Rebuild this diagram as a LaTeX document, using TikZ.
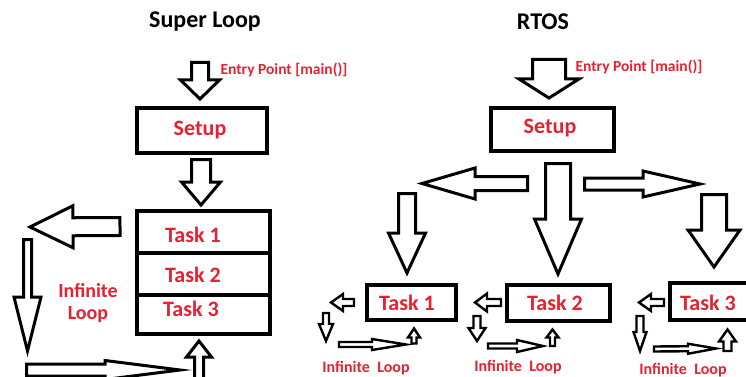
\documentclass[tikz,border=0pt]{standalone}
\usepackage{fontspec}
\setmainfont{Carlito}
\usetikzlibrary{calc}
\definecolor{labelred}{RGB}{228,34,50}

% Hollow block arrow from coordinate #2 (tail) to coordinate #3 (tip):
% #4 shaft half width, #5 head half width, #6 head length (all in pt)
\newcommand\blockarrow[6][fatline]{%
  \coordinate (ba-neck) at ($(#3)!#6pt!(#2)$);
  \draw[#1] ($(#2)!#4pt!90:(#3)$) -- ($(ba-neck)!#4pt!90:(#3)$)
    -- ($(ba-neck)!#5pt!90:(#3)$) -- (#3)
    -- ($(ba-neck)!#5pt!-90:(#3)$) -- ($(ba-neck)!#4pt!-90:(#3)$)
    -- ($(#2)!#4pt!-90:(#3)$) -- cycle;
}

\tikzset{
  fatline/.style={draw=black, fill=white, line width=3pt, line join=miter},
  thinline/.style={draw=black, fill=white, line width=2.4pt, line join=miter},
  box/.style={draw=black, line width=3.5pt, rectangle, inner sep=0pt,
    minimum width=#1},
  title/.style={font=\fontsize{24}{28}\selectfont\bfseries, text=black},
  entry/.style={font=\fontsize{15.5}{18}\selectfont\bfseries, text=labelred},
  big/.style={font=\fontsize{22}{26}\selectfont\bfseries, text=labelred},
  loopbig/.style={font=\fontsize{20}{22}\selectfont\bfseries, text=labelred, align=center},
  loopsmall/.style={font=\fontsize{16}{18}\selectfont\bfseries, text=labelred},
}

\begin{document}
\begin{tikzpicture}[x=1pt, y=-1pt]
  \useasboundingbox (0,0) rectangle (746,377);
  \fill[white] (0,0) rectangle (746,377);
  \clip (0,0) rectangle (746,377);

  % ---------------- Super Loop ----------------
  \node[title] (sltitle) at (205,22) {Super Loop};
  \node[entry] (slentry) at (284,70) {Entry Point [main()]};

  \node[box=130pt, minimum height=45pt] (slsetup) at (202,130.5) {};
  \node[big] (slsetuptxt) at (200,130) {Setup};

  \node[box=133pt, minimum height=42pt] (sltask1) at (203.5,232) {};
  \node[box=133pt, minimum height=42pt] (sltask2) at (203.5,274) {};
  \node[box=133pt, minimum height=39pt] (sltask3) at (203.5,314.5) {};
  \node[big] (sltask1txt) at (193,235) {Task 1};
  \node[big] (sltask2txt) at (193,275) {Task 2};
  \node[big] (sltask3txt) at (191,309) {Task 3};

  \node[loopbig] (slloop) at (88,303) {Infinite\\Loop};

  % arrow end points
  \coordinate (sl-in-a)   at (200,62.5);  \coordinate (sl-in-b)   at (200,99);
  \coordinate (sl-st-a)   at (201,159.5); \coordinate (sl-st-b)   at (201,205);
  \coordinate (sl-l-a)    at (120,226.5); \coordinate (sl-l-b)    at (30,227);
  \coordinate (sl-d-a)    at (27.5,239.5);\coordinate (sl-d-b)    at (27.5,351);
  \coordinate (sl-r-a)    at (26.5,370);  \coordinate (sl-r-b)    at (180,370);
  \coordinate (sl-u-a)    at (199,390);   \coordinate (sl-u-b)    at (199,341);

  \blockarrow{sl-in-a}{sl-in-b}{8.5}{19.5}{19}
  \blockarrow{sl-st-a}{sl-st-b}{9.5}{19.5}{23}
  \blockarrow{sl-l-a}{sl-l-b}{9}{21}{43}
  \blockarrow{sl-d-a}{sl-d-b}{4}{13.5}{54}
  \blockarrow{sl-r-a}{sl-r-b}{6}{9.5}{75}
  \blockarrow{sl-u-a}{sl-u-b}{4.5}{12.5}{16}

  % ---------------- RTOS ----------------
  \node[title] (rtitle) at (543,22) {RTOS};
  \node[entry] (rentry) at (639,67) {Entry Point [main()]};

  \node[box=123pt, minimum height=43pt] (rsetup) at (552.5,129.5) {};
  \node[big] (rsetuptxt) at (550,128) {Setup};

  \node[box=89pt, minimum height=35pt] (rtask1) at (411.5,302.5) {};
  \node[box=103pt, minimum height=36pt] (rtask2) at (558.5,303) {};
  \node[box=120pt, minimum height=37pt] (rtask3) at (730,301.5) {};
  \node[big] (rtask1txt) at (407,303) {Task 1};
  \node[big] (rtask2txt) at (555,303) {Task 2};
  \node[big] (rtask3txt) at (708,303) {Task 3};

  \coordinate (r-in-a) at (549,59.5);   \coordinate (r-in-b) at (549,98);
  \coordinate (r-c-a)  at (558,163.5);  \coordinate (r-c-b)  at (558,274);
  \coordinate (r-l-a)  at (527.5,183.5);\coordinate (r-l-b)  at (422,183.5);
  \coordinate (r-r-a)  at (584.5,184);  \coordinate (r-r-b)  at (700,184);
  \coordinate (r-ld-a) at (407,193.5);  \coordinate (r-ld-b) at (407,273);
  \coordinate (r-rd-a) at (714,194.5);  \coordinate (r-rd-b) at (714,267);

  \blockarrow{r-in-a}{r-in-b}{16.5}{30}{19}
  \blockarrow{r-c-a}{r-c-b}{12.5}{23.5}{55}
  \blockarrow{r-l-a}{r-l-b}{7}{15.5}{53}
  \blockarrow{r-r-a}{r-r-b}{6}{13}{57}
  \blockarrow{r-ld-a}{r-ld-b}{8.5}{18.5}{40}
  \blockarrow{r-rd-a}{r-rd-b}{12.5}{26}{37}

  % small loops under each task
  \coordinate (t1-l-a) at (354,302.5); \coordinate (t1-l-b) at (331,302.5);
  \coordinate (t1-d-a) at (326,313);   \coordinate (t1-d-b) at (326,341);
  \coordinate (t1-r-a) at (339,344.5); \coordinate (t1-r-b) at (406,344.5);
  \coordinate (t1-u-a) at (414,343.5); \coordinate (t1-u-b) at (414,328.5);
  \blockarrow[thinline]{t1-l-a}{t1-l-b}{3.5}{8.5}{12}
  \blockarrow[thinline]{t1-d-a}{t1-d-b}{3}{7}{17}
  \blockarrow[thinline]{t1-r-a}{t1-r-b}{2.5}{5.5}{34}
  \blockarrow[thinline]{t1-u-a}{t1-u-b}{2.5}{6}{9}
  \node[loopsmall] (t1loop) at (366,368) {Infinite~ Loop};

  \coordinate (t2-l-a) at (501,302.5); \coordinate (t2-l-b) at (475,302.5);
  \coordinate (t2-d-a) at (477,316);   \coordinate (t2-d-b) at (477,341);
  \coordinate (t2-r-a) at (488,346);   \coordinate (t2-r-b) at (543,346);
  \coordinate (t2-u-a) at (552.5,346); \coordinate (t2-u-b) at (552.5,329.5);
  \blockarrow[thinline]{t2-l-a}{t2-l-b}{3.5}{9}{12}
  \blockarrow[thinline]{t2-d-a}{t2-d-b}{3.5}{8.5}{13}
  \blockarrow[thinline]{t2-r-a}{t2-r-b}{2.5}{6}{26}
  \blockarrow[thinline]{t2-u-a}{t2-u-b}{2.5}{6}{8}
  \node[loopsmall] (t2loop) at (518,367) {Infinite~ Loop};

  \coordinate (t3-l-a) at (664,302.5); \coordinate (t3-l-b) at (639,302.5);
  \coordinate (t3-d-a) at (640,316);   \coordinate (t3-d-b) at (640,351);
  \coordinate (t3-r-a) at (654,349);   \coordinate (t3-r-b) at (716,348.5);
  \coordinate (t3-u-a) at (727.5,351); \coordinate (t3-u-b) at (727.5,329.5);
  \blockarrow[thinline]{t3-l-a}{t3-l-b}{3.5}{8.5}{12}
  \blockarrow[thinline]{t3-d-a}{t3-d-b}{3.5}{6.5}{19}
  \blockarrow[thinline]{t3-r-a}{t3-r-b}{2.5}{5}{28}
  \blockarrow[thinline]{t3-u-a}{t3-u-b}{4}{8.5}{12}
  \node[loopsmall] (t3loop) at (683,370) {Infinite~ Loop};
\end{tikzpicture}
\end{document}
